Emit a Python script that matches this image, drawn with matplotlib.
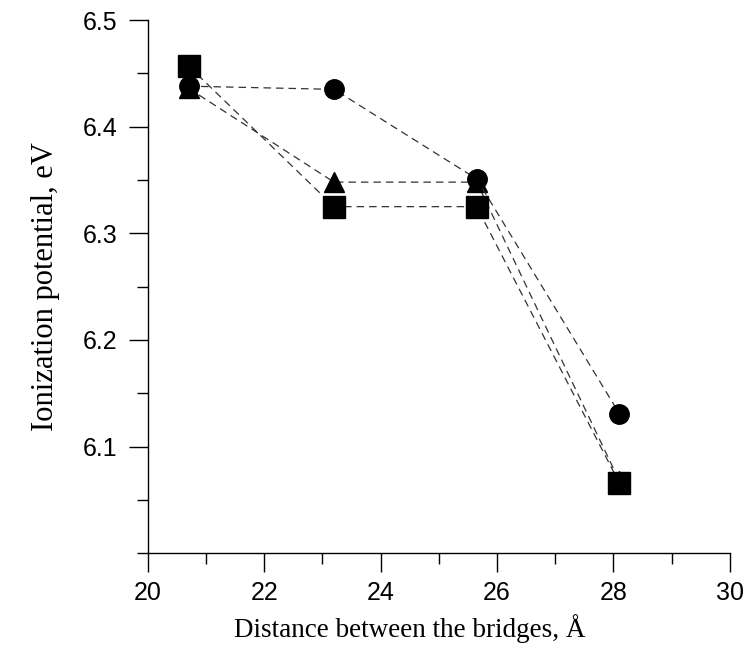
import matplotlib
matplotlib.use("Agg")
import matplotlib.pyplot as plt
from matplotlib.ticker import MultipleLocator

plt.rcParams['font.family'] = ['Liberation Sans', 'DejaVu Sans']

# distance between bridges (A)
dist = [20.7, 23.2, 25.65, 28.1]

# ionization potential (eV) for the three series
ip_triangle = [6.436, 6.348, 6.348, 6.068]
ip_circle = [6.438, 6.435, 6.351, 6.131]
ip_square = [6.457, 6.325, 6.325, 6.066]

xticks = [20, 22, 24, 26, 28, 30]
yticks = [6.1, 6.2, 6.3, 6.4, 6.5]

fig = plt.figure(figsize=(7.54, 6.47), dpi=100)
ax = fig.add_axes([0.196, 0.145, 0.772, 0.824])

line_kw = dict(color='#333333', linestyle=(0, (6, 4)), linewidth=0.9)
ax.plot(dist, ip_triangle, marker='^', markersize=15, markerfacecolor='black',
	markeredgecolor='black', zorder=3, **line_kw)
ax.plot(dist, ip_circle, marker='o', markersize=14, markerfacecolor='black',
	markeredgecolor='black', zorder=4, **line_kw)
ax.plot(dist, ip_square, marker='s', markersize=15.5, markerfacecolor='black',
	markeredgecolor='black', zorder=5, **line_kw)

ax.set_xlim(20, 30)
ax.set_ylim(6.0, 6.5)
ax.set_xticks(xticks)
ax.set_yticks(yticks)
ax.xaxis.set_minor_locator(MultipleLocator(1))
ax.yaxis.set_minor_locator(MultipleLocator(0.05))

for side in ['top', 'right']:
	ax.spines[side].set_visible(False)
for side in ['left', 'bottom']:
	ax.spines[side].set_linewidth(1.0)

ax.tick_params(which='major', direction='out', length=14, width=1.0, labelsize=18)
ax.tick_params(which='minor', direction='out', length=8, width=1.0)
ax.tick_params(axis='x', which='major', pad=6)
ax.tick_params(axis='y', which='major', pad=8)

ax.set_xlabel('Distance between the bridges, Å', family='Liberation Serif', fontsize=19.5, labelpad=7)
ax.xaxis.set_label_coords(0.45, -0.115)
ax.set_ylabel('Ionization potential, eV', family='Liberation Serif', fontsize=22, labelpad=16)

plt.savefig('out.png', dpi=100)
plt.close()
